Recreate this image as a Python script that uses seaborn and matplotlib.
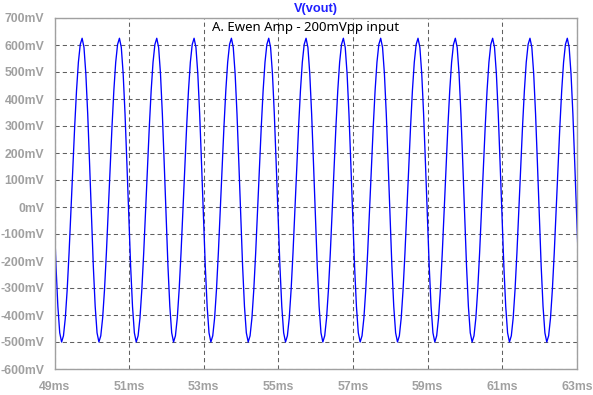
import seaborn as sns
import matplotlib.pyplot as plt
import matplotlib.ticker as mticker
import pandas as pd

# one period of the output (starting at a trough)
shape_offset_ms = [0.00, 0.05, 0.10, 0.15, 0.20, 0.25, 0.30, 0.35, 0.40, 0.45,
                   0.50, 0.55, 0.60, 0.65, 0.70, 0.75, 0.80, 0.85, 0.90, 0.95]
shape_mv = [-500, -477, -411, -306, -171, -17, 142, 296, 431, 536,
            602, 625, 591, 493, 344, 160, -35, -219, -368, -466]

# times of each trough (ms)
trough_ms = [48.19, 49.19, 50.19, 51.19, 52.19, 53.19, 54.19, 55.19,
             56.19, 57.19, 58.19, 59.19, 60.19, 61.19, 62.19]

x_ticks = [49, 51, 53, 55, 57, 59, 61, 63]
y_ticks = [-600, -500, -400, -300, -200, -100, 0, 100, 200, 300, 400, 500, 600, 700]

title = "V(vout)"
note = "A. Ewen Amp - 200mVpp input"

rows = []
for t0 in trough_ms:
    for dt, v in zip(shape_offset_ms, shape_mv):
        rows.append((t0 + dt, v))
df = pd.DataFrame(rows, columns=["time_ms", "vout_mv"])

sns.set_style("white")
plt.rcParams['font.family'] = ['Liberation Sans', 'DejaVu Sans']

fig = plt.figure(figsize=(5.93, 3.95), dpi=100)
ax = fig.add_axes([54.5 / 593, 1 - 369 / 395, 522.5 / 593, 351 / 395])

sns.lineplot(data=df, x="time_ms", y="vout_mv", ax=ax, color="#0000ff",
             linewidth=0.95, sort=False, estimator=None)

ax.set_xlim(49, 63)
ax.set_ylim(-600, 700)
ax.set_xticks(x_ticks)
ax.set_yticks(y_ticks)
ax.xaxis.set_major_formatter(mticker.FuncFormatter(lambda v, p: f"{int(round(v))}ms"))
ax.yaxis.set_major_formatter(mticker.FuncFormatter(lambda v, p: f"{int(round(v))}mV"))
ax.set_xlabel("")
ax.set_ylabel("")

gray = "#a0a0a0"
for s in ax.spines.values():
    s.set_color(gray)
    s.set_linewidth(1.0)
ax.tick_params(axis="both", colors=gray, length=5, width=1.0, labelsize=8.8, pad=2.5,
               direction="out")
ax.tick_params(axis="x", pad=3.5)
for lab in ax.get_xticklabels() + ax.get_yticklabels():
    lab.set_fontweight("bold")
    lab.set_color(gray)

ax.grid(True, color="#606060", linestyle=(0, (4, 3)), linewidth=0.75)
ax.set_axisbelow(True)

fig.text(316 / 593, 1 - 9 / 395, title, color="#2020ff", fontsize=9.2, fontweight="bold",
         ha="center", va="center")
ax.text((212 - 54.5) / 522.5, (369 - 28) / 351, note, transform=ax.transAxes,
        fontsize=9.5, color="black", ha="left", va="center", family=["Noto Sans", "DejaVu Sans"])

fig.savefig("out.png", dpi=100)
